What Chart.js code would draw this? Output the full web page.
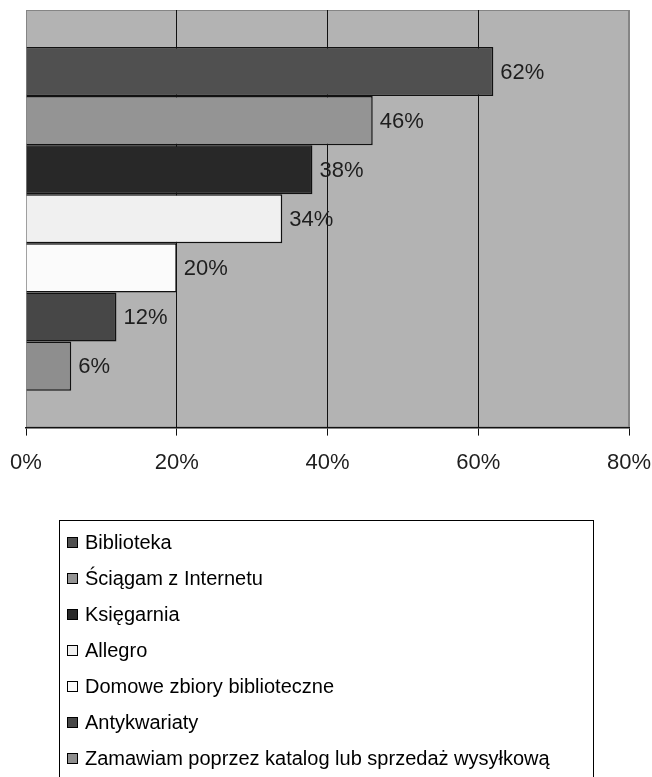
<!DOCTYPE html>
<html>
<head>
<meta charset="utf-8">
<script src="https://cdn.jsdelivr.net/npm/chart.js@4.4.0/dist/chart.umd.min.js"></script>
<style>
  html, body { margin: 0; padding: 0; background: #fff; }
  #wrap { width: 652px; height: 777px; }
</style>
</head>
<body>
<div id="wrap"><canvas id="chart"></canvas></div>
<script>
// dane z wykresu
const seriesNames = [
    'Biblioteka',
    'Ściągam z Internetu',
    'Księgarnia',
    'Allegro',
    'Domowe zbiory biblioteczne',
    'Antykwariaty',
    'Zamawiam poprzez katalog lub sprzedaż wysyłkową'
];
const seriesValues = [62, 46, 38, 34, 20, 12, 6];
const seriesColors = ['#505050', '#949494', '#282828', '#f0f0f0', '#fbfbfb', '#474747', '#8e8e8e'];
const tickValues = [0, 20, 40, 60, 80];

const FONT = '"Liberation Sans", Arial, sans-serif';

// szare tlo obszaru wykresu
const plotBackground = {
    id: 'plotBackground',
    beforeDraw(chart) {
        const { ctx, chartArea: a } = chart;
        ctx.save();
        ctx.fillStyle = '#b3b3b3';
        ctx.fillRect(a.left, a.top, a.right - a.left, a.bottom - a.top);
        ctx.strokeStyle = '#858585';
        ctx.lineWidth = 1;
        ctx.strokeRect(a.left + 0.5, a.top + 0.5, a.right - a.left - 1, a.bottom - a.top - 1);
        ctx.restore();
    }
};

// etykiety z wartosciami przy slupkach
const valueLabels = {
    id: 'valueLabels',
    afterDatasetsDraw(chart) {
        const ctx = chart.ctx;
        ctx.save();
        ctx.font = '22px ' + FONT;
        ctx.fillStyle = '#1e1e1e';
        ctx.textAlign = 'left';
        ctx.textBaseline = 'middle';
        chart.data.datasets.forEach((ds, i) => {
            const el = chart.getDatasetMeta(i).data[0];
            ctx.fillText(ds.data[0] + '%', el.x + 7, el.y + 1);
        });
        ctx.restore();
    }
};

// legenda w ramce pod wykresem
const boxLegend = {
    id: 'boxLegend',
    afterDraw(chart) {
        const ctx = chart.ctx;
        ctx.save();
        ctx.strokeStyle = '#000';
        ctx.lineWidth = 1;
        ctx.strokeRect(59.5, 520.5, 534, 280);
        ctx.font = '20px ' + FONT;
        ctx.textBaseline = 'middle';
        ctx.textAlign = 'left';
        chart.data.datasets.forEach((ds, i) => {
            const y = 542 + i * 36;
            ctx.fillStyle = ds.backgroundColor;
            ctx.fillRect(67, y - 5, 11, 11);
            ctx.strokeStyle = '#000';
            ctx.strokeRect(67.5, y - 4.5, 10, 10);
            ctx.fillStyle = '#000';
            ctx.fillText(ds.label, 85, y + 1);
        });
        ctx.restore();
    }
};

const ctx = document.getElementById('chart').getContext('2d');
const chart = new Chart(ctx, {
    type: 'bar',
    data: {
        labels: [''],
        datasets: seriesNames.map((name, i) => ({
            label: name,
            data: [seriesValues[i]],
            backgroundColor: seriesColors[i],
            borderColor: '#111',
            borderWidth: 1.5
        }))
    },
    options: {
        indexAxis: 'y',
        responsive: true,
        maintainAspectRatio: false,
        animation: false,
        layout: { padding: { left: 26, right: 23, top: 10, bottom: 287 } },
        categoryPercentage: 0.823,
        barPercentage: 1,
        scales: {
            x: {
                min: 0,
                max: 80,
                afterBuildTicks(scale) {
                    scale.ticks = tickValues.map(v => ({ value: v }));
                },
                afterFit(scale) {
                    scale.paddingLeft = 0;
                    scale.paddingRight = 0;
                },
                ticks: {
                    callback: v => v + '%',
                    color: '#1e1e1e',
                    font: { family: FONT, size: 22 },
                    padding: 14,
                    maxRotation: 0
                },
                grid: {
                    color: c => (c.index === 0 || c.index === tickValues.length - 1) ? '#858585' : '#111',
                    lineWidth: 1,
                    drawTicks: true,
                    tickLength: 8,
                    tickColor: '#111'
                },
                border: { display: true, color: '#111', width: 1.5 }
            },
            y: {
                display: false
            }
        },
        plugins: {
            legend: { display: false },
            tooltip: { enabled: false }
        }
    },
    plugins: [plotBackground, valueLabels, boxLegend]
});
</script>
</body>
</html>
